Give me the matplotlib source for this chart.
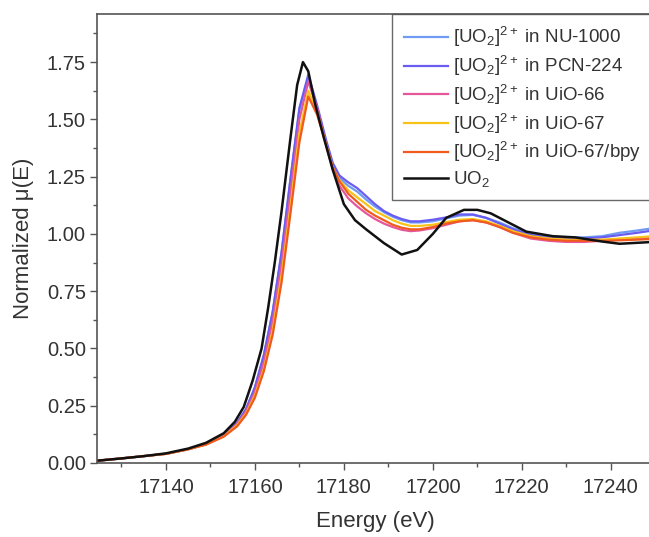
import numpy as np
import matplotlib
matplotlib.use('Agg')
from matplotlib import pyplot as plt
from matplotlib.ticker import MultipleLocator

plt.rcParams['font.family'] = ['Liberation Sans', 'DejaVu Sans']
plt.rcParams['mathtext.fontset'] = 'custom'
plt.rcParams['mathtext.rm'] = 'Liberation Sans'
plt.rcParams['mathtext.it'] = 'Liberation Sans'
plt.rcParams['mathtext.bf'] = 'Liberation Sans'

# UO2 reference spectrum
energy_uo2 = [17124.5, 17130, 17135, 17140, 17145, 17149, 17153, 17155.5, 17157.5, 17159.5,
              17161.5, 17163, 17164.5, 17166, 17168, 17169.5, 17170.8, 17172, 17173.5, 17175.5,
              17177.5, 17180, 17182.5, 17185, 17189, 17193, 17196.5, 17200, 17203, 17207,
              17210, 17213, 17217, 17221, 17227, 17232, 17238, 17242, 17249.5]
mu_uo2 = [0.01, 0.02, 0.03, 0.042, 0.063, 0.088, 0.13, 0.18, 0.245, 0.36,
          0.50, 0.68, 0.88, 1.10, 1.42, 1.65, 1.75, 1.71, 1.57, 1.42,
          1.28, 1.13, 1.06, 1.02, 0.96, 0.91, 0.93, 1.00, 1.07, 1.105,
          1.105, 1.09, 1.05, 1.01, 0.99, 0.985, 0.967, 0.957, 0.965]

# uranyl in MOFs
energy = [17124.5, 17130, 17135, 17140, 17145, 17149, 17153, 17156, 17158, 17160,
          17162, 17164, 17166, 17168, 17170, 17172, 17174, 17176, 17177.5, 17179,
          17181, 17183, 17185, 17187, 17189, 17191, 17193, 17195, 17197, 17200,
          17203, 17206, 17209, 17212, 17215, 17218, 17222, 17226, 17230, 17234,
          17238, 17242, 17246, 17249.5]
mu_nu1000 = [0.01, 0.02, 0.03, 0.04, 0.06, 0.083, 0.12, 0.175, 0.235, 0.33,
             0.47, 0.66, 0.92, 1.24, 1.54, 1.68, 1.55, 1.40, 1.30, 1.245,
             1.21, 1.185, 1.15, 1.12, 1.095, 1.075, 1.06, 1.05, 1.05, 1.055,
             1.068, 1.08, 1.083, 1.07, 1.05, 1.025, 1.0, 0.99, 0.985, 0.985,
             0.99, 1.005, 1.015, 1.025]
mu_pcn224 = [0.01, 0.02, 0.03, 0.04, 0.06, 0.083, 0.12, 0.175, 0.235, 0.33,
             0.47, 0.66, 0.92, 1.24, 1.55, 1.695, 1.56, 1.41, 1.31, 1.255,
             1.225, 1.20, 1.165, 1.13, 1.10, 1.08, 1.065, 1.055, 1.055, 1.062,
             1.072, 1.085, 1.085, 1.07, 1.045, 1.02, 0.995, 0.985, 0.98, 0.98,
             0.985, 0.995, 1.005, 1.015]
mu_uio66 = [0.01, 0.02, 0.03, 0.04, 0.06, 0.082, 0.118, 0.17, 0.225, 0.31,
            0.44, 0.62, 0.87, 1.18, 1.50, 1.665, 1.55, 1.39, 1.28, 1.21,
            1.155, 1.12, 1.09, 1.065, 1.045, 1.03, 1.018, 1.012, 1.015, 1.025,
            1.04, 1.055, 1.06, 1.05, 1.03, 1.005, 0.98, 0.97, 0.965, 0.965,
            0.97, 0.975, 0.98, 0.985]
mu_uio67 = [0.01, 0.02, 0.03, 0.04, 0.06, 0.081, 0.116, 0.165, 0.215, 0.295,
            0.41, 0.58, 0.82, 1.12, 1.44, 1.625, 1.53, 1.39, 1.29, 1.235,
            1.19, 1.16, 1.13, 1.10, 1.08, 1.06, 1.045, 1.035, 1.035, 1.04,
            1.052, 1.062, 1.065, 1.055, 1.035, 1.012, 0.99, 0.98, 0.975, 0.975,
            0.975, 0.98, 0.985, 0.99]
mu_uio67bpy = [0.01, 0.02, 0.03, 0.04, 0.06, 0.08, 0.115, 0.16, 0.21, 0.285,
               0.40, 0.56, 0.79, 1.09, 1.40, 1.60, 1.52, 1.39, 1.29, 1.23,
               1.175, 1.14, 1.105, 1.08, 1.06, 1.04, 1.027, 1.02, 1.02, 1.03,
               1.045, 1.055, 1.06, 1.05, 1.03, 1.005, 0.985, 0.975, 0.97, 0.97,
               0.97, 0.972, 0.975, 0.978]

labels = [r'[UO$_2$]$^{2+}$ in NU-1000', r'[UO$_2$]$^{2+}$ in PCN-224',
          r'[UO$_2$]$^{2+}$ in UiO-66', r'[UO$_2$]$^{2+}$ in UiO-67',
          r'[UO$_2$]$^{2+}$ in UiO-67/bpy', r'UO$_2$']
colours = ['#6f9cf0', '#6a5cf2', '#e4589b', '#f7c21a', '#f05a1e', '#111111']

fig = plt.figure(figsize=(6.49, 5.37), dpi=100)
ax = fig.add_axes([97/649, 74/537, 556/649, 449/537])

series = [mu_nu1000, mu_pcn224, mu_uio66, mu_uio67, mu_uio67bpy]
for mu, lab, c in zip(series, labels[:5], colours[:5]):
    ax.plot(energy, mu, color=c, lw=1.6, label=lab)
ax.plot(energy_uo2, mu_uo2, color=colours[5], lw=1.8, label=labels[5])

ax.set_xlim(17124.5, 17249.5)
ax.set_ylim(0, 1.96)
ax.xaxis.set_major_locator(MultipleLocator(20))
ax.xaxis.set_minor_locator(MultipleLocator(10))
ax.yaxis.set_major_locator(MultipleLocator(0.25))
ax.yaxis.set_minor_locator(MultipleLocator(0.125))
ax.yaxis.set_major_formatter(matplotlib.ticker.FormatStrFormatter('%.2f'))
ax.tick_params(which='major', direction='out', length=5, width=1, colors='#555555',
               labelcolor='#333333', labelsize=14.5, pad=3)
ax.tick_params(axis='x', which='major', pad=6)
ax.tick_params(which='minor', direction='out', length=3, width=1, colors='#555555')
for s in ax.spines.values():
    s.set_color('#555555')
    s.set_linewidth(1.2)

ax.set_xlabel('Energy (eV)', fontsize=16, color='#333333', labelpad=10)
ax.set_ylabel('Normalized μ(E)', fontsize=16, color='#333333', labelpad=9)

leg = ax.legend(loc='upper right', borderaxespad=0, fontsize=13.5,
                frameon=True, fancybox=False, handlelength=2.35, labelspacing=0.25,
                handletextpad=0.3, borderpad=0.6)
leg.get_frame().set_edgecolor('#444444')
leg.get_frame().set_linewidth(1.0)
for t in leg.get_texts():
    t.set_color('#333333')

plt.savefig('out.png', dpi=100)
